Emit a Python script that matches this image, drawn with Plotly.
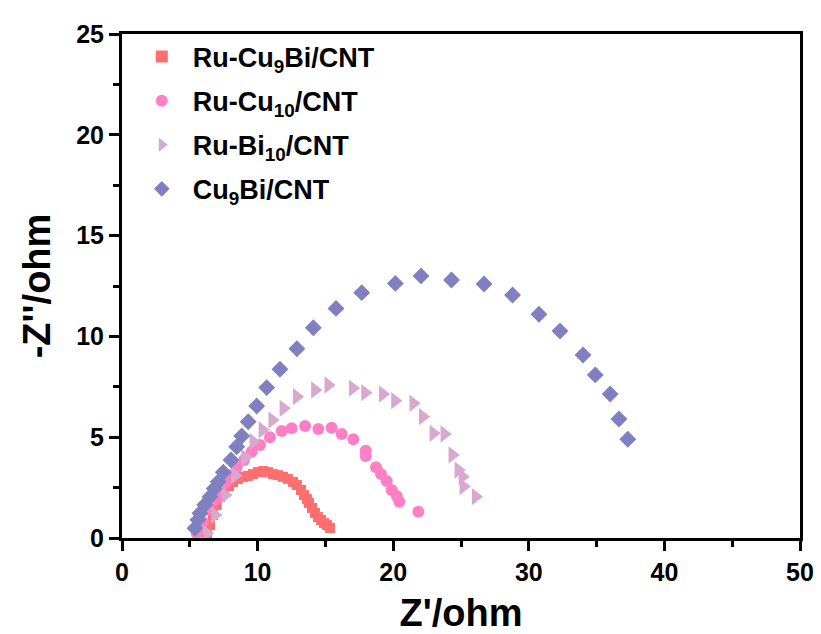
import plotly.graph_objects as go

# Nyquist data: Z' (ohm) and -Z'' (ohm) for each catalyst
ru_cu9bi_x = [6.27, 6.49, 6.71, 6.98, 7.23, 7.52, 7.89, 8.19, 8.55, 8.92, 9.29, 9.66,
              10.03, 10.40, 10.77, 11.14, 11.50, 11.87, 12.24, 12.61, 12.90, 13.20,
              13.42, 13.64, 13.79, 14.01, 14.23, 14.45, 14.68, 14.90, 15.12, 15.34]
ru_cu9bi_y = [0.15, 0.64, 1.14, 1.64, 2.03, 2.33, 2.58, 2.78, 2.93, 3.03, 3.08, 3.17,
              3.27, 3.32, 3.27, 3.17, 3.12, 3.03, 2.93, 2.78, 2.63, 2.38,
              2.13, 1.93, 1.74, 1.49, 1.24, 1.04, 0.89, 0.74, 0.64, 0.50]

ru_cu10_x = [5.51, 5.97, 6.42, 6.86, 7.23, 7.60, 8.09, 8.46, 9.00, 9.56, 10.18, 10.91,
             11.78, 12.51, 13.50, 14.48, 15.46, 16.20, 17.06, 17.97, 17.97, 18.73,
             19.10, 19.52, 19.89, 20.26, 20.45, 21.85]
ru_cu10_y = [0.23, 0.79, 1.39, 1.88, 2.30, 2.71, 3.13, 3.51, 3.87, 4.28, 4.61, 5.00,
             5.31, 5.44, 5.56, 5.41, 5.47, 5.16, 4.90, 4.33, 4.07, 3.51,
             3.17, 2.83, 2.38, 2.08, 1.80, 1.30]

ru_bi10_x = [6.25, 6.86, 7.60, 8.33, 9.07, 9.68, 10.35, 11.08, 11.90, 12.88, 14.23,
             15.21, 17.01, 17.92, 19.23, 20.13, 21.48, 22.18, 22.96, 23.77, 24.36,
             24.80, 25.10, 25.17, 26.08]
ru_bi10_y = [0.23, 1.14, 2.13, 3.10, 4.00, 4.78, 5.36, 5.85, 6.43, 7.01, 7.34,
             7.59, 7.43, 7.21, 7.14, 6.81, 6.68, 6.02, 5.19, 5.16, 4.12,
             3.37, 3.04, 2.55, 2.05]

cu9bi_x = [5.38, 5.60, 5.75, 6.10, 6.49, 6.80, 7.10, 7.47, 8.04, 8.46, 8.83, 9.31,
           9.93, 10.67, 11.65, 12.90, 14.11, 15.78, 17.68, 20.16, 22.05, 24.30,
           26.70, 28.80, 30.75, 32.30, 34.00, 34.90, 36.00, 36.65, 37.30]
cu9bi_y = [0.48, 0.90, 1.23, 1.65, 2.05, 2.45, 2.79, 3.26, 3.87, 4.53, 5.06, 5.77,
           6.55, 7.46, 8.37, 9.39, 10.43, 11.39, 12.17, 12.63, 13.00, 12.80,
           12.60, 12.05, 11.10, 10.27, 9.08, 8.09, 7.14, 5.90, 4.90]

series = [
    ("Ru-Cu<sub>9</sub>Bi/CNT", ru_cu9bi_x, ru_cu9bi_y, "square", "#FF6F6F", 10),
    ("Ru-Cu<sub>10</sub>/CNT", ru_cu10_x, ru_cu10_y, "circle", "#FF7FC4", 12),
    ("Ru-Bi<sub>10</sub>/CNT", ru_bi10_x, ru_bi10_y, "triangle-right", "#D8A8D0", 15),
    ("Cu<sub>9</sub>Bi/CNT", cu9bi_x, cu9bi_y, "diamond", "#8080C0", 13),
]

FONT = "Liberation Sans, Arial, sans-serif"

fig = go.Figure()
for i, (name, xs, ys, sym, col, size) in enumerate(series):
    fig.add_trace(go.Scatter(
        x=xs, y=ys, mode="markers", name=name, legendgroup=f"g{i}",
        marker=dict(symbol=sym, color=col, size=size, line=dict(width=0)),
    ))

axis_common = dict(
    showline=True, linewidth=3, linecolor="black", mirror=True,
    ticks="outside", ticklen=10, tickwidth=3, tickcolor="black",
    showgrid=False, zeroline=False, automargin=False,
    tickfont=dict(family=FONT, size=25, color="black", weight="bold"),
)

fig.update_xaxes(
    range=[0, 50], tickvals=[0, 10, 20, 30, 40, 50],
    minor=dict(tickvals=[5, 15, 25, 35, 45], ticks="outside", ticklen=6,
               tickwidth=3, tickcolor="black"),
    title=dict(text="Z'/ohm", standoff=15,
               font=dict(family=FONT, size=38, color="black", weight="bold")),
    **axis_common,
)
fig.update_yaxes(
    range=[0, 25], tickvals=[0, 5, 10, 15, 20, 25],
    minor=dict(tickvals=[2.5, 7.5, 12.5, 17.5, 22.5], ticks="outside", ticklen=6,
               tickwidth=3, tickcolor="black"),
    title=dict(text="-Z''/ohm", standoff=14,
               font=dict(family=FONT, size=38, color="black", weight="bold")),
    **axis_common,
)

fig.update_layout(
    width=821, height=634,
    margin=dict(l=122, r=21, t=34, b=96),
    plot_bgcolor="white", paper_bgcolor="white",
    showlegend=True,
    legend=dict(
        x=0.013, y=1.003, xanchor="left", yanchor="top",
        bgcolor="rgba(0,0,0,0)", borderwidth=0,
        font=dict(family=FONT, size=27, color="black", weight="bold"),
        tracegroupgap=6, itemsizing="constant", itemwidth=52,
    ),
)

fig.write_html("out.html")
